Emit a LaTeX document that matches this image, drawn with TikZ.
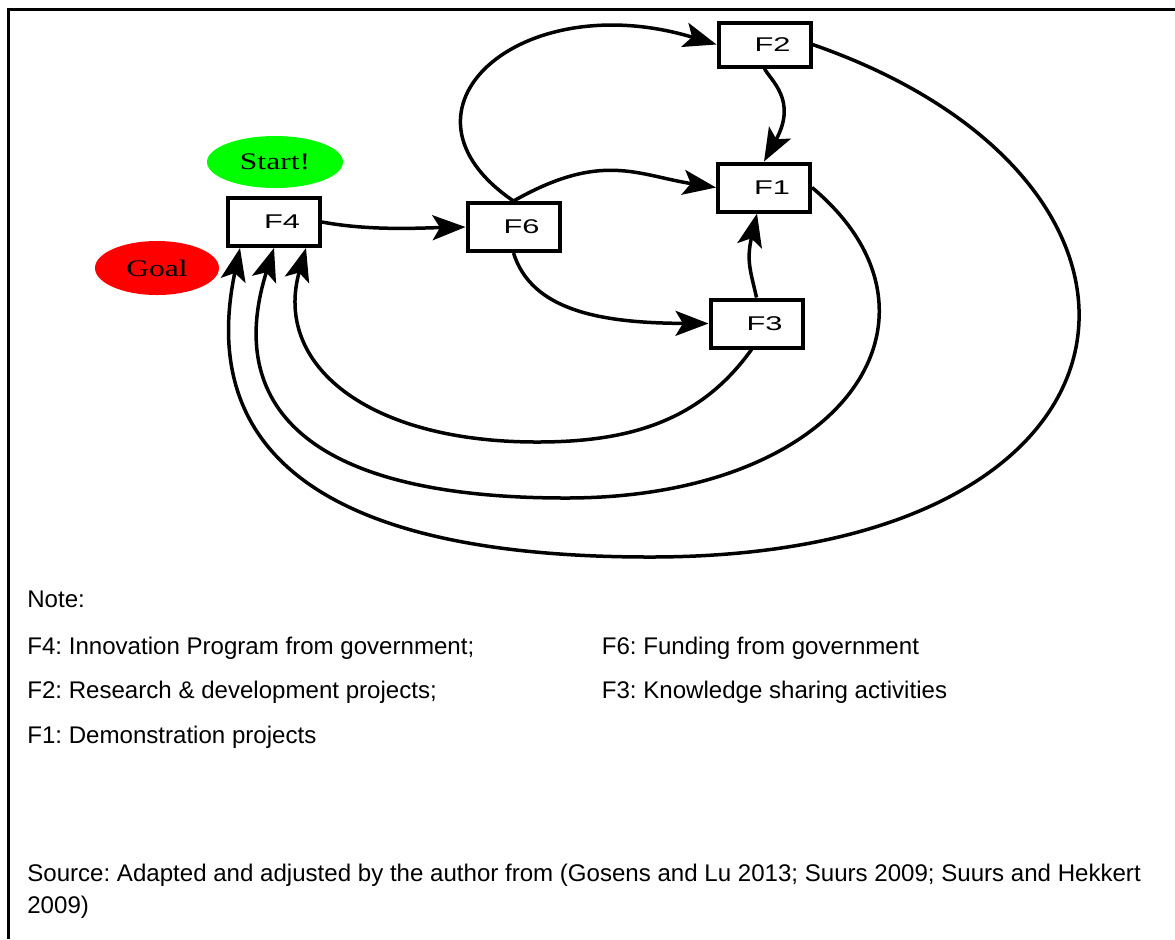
\documentclass[tikz,border=0pt]{standalone}
\usepackage{fontspec}
\setmainfont{Liberation Sans}
\newfontfamily\ovalfont{Liberation Serif}
\usetikzlibrary{arrows.meta, shapes.geometric, positioning}
\frenchspacing
\tikzstyle{arrow} = [line width=0.07cm,-{Stealth[length=0.66cm,width=0.5cm,inset=0.15cm]}]
\tikzstyle{oval} = [ellipse, inner sep=0pt, font=\ovalfont\fontsize{13.5}{16}\selectfont]
\tikzstyle{note} = [anchor=base west, inner sep=0pt, align=left, font=\fontsize{13.7}{18.2}\selectfont]
\tikzset{factor/.style={
    draw, line width=0.08cm, minimum width=1.84cm, minimum height=0.96cm, inner sep=0pt,
    label={[xshift=0.16cm, font=\fontsize{11.3}{13}\selectfont]center:\scalebox{1.55}[1]{#1}},
  },
}

\begin{document}
\begin{tikzpicture}
        \useasboundingbox (0,0) rectangle (23.5,-18.78);
        \draw[line width=0.06cm] (0.17,-18.78) -- (0.17,-0.18) -- (23.5,-0.18);

        \node[oval, fill=green, minimum width=2.72cm, minimum height=1.04cm] (start) at (5.50,-3.24) {\scalebox{1.33}[1]{Start!}};
        \node[oval, fill=red, minimum width=2.48cm, minimum height=1.08cm] (goal) at (3.14,-5.36) {\scalebox{1.33}[1]{Goal}};

        \node[factor=F4] (f4) at (5.48,-4.44) {};
        \node[factor=F6] (f6) at (10.27,-4.54) {};
        \node[factor=F2, minimum height=0.88cm] (f2) at (15.29,-0.89) {};
        \node[factor=F1] (f1) at (15.28,-3.75) {};
        \node[factor=F3] (f3) at (15.13,-6.47) {};

        % links between the factors
        \draw[arrow] (f4.east) .. controls (7.4,-4.62) and (8.4,-4.56) .. (f6.west);
        \draw[arrow] (f6.north) .. controls (7.6,-2.2) and (10.4,0.3) .. (f2.west);
        \draw[arrow] (f6.north) .. controls (12.03,-3.02) and (12.74,-3.50) .. (f1.west);
        \draw[arrow] (f6.south) .. controls (10.63,-6.20) and (11.98,-6.46) .. (f3.west);
        \draw[arrow] (f2.south) .. controls (15.40,-1.60) and (15.96,-2.00) .. (f1.north);
        \draw[arrow] (f3.north) .. controls (15.02,-5.45) and (14.92,-5.23) .. ([xshift=-0.14cm]f1.south);

        % feedback loops back to F4
        \draw[arrow] ([xshift=-0.1cm]f3.south) .. controls (14.0,-8.43) and (12.58,-8.84) .. (10.74,-8.84)
            .. controls (7.34,-8.84) and (5.46,-7.29) .. ([xshift=0.64cm]f4.south);
        \draw[arrow] (f1.east) .. controls (19.3,-6.31) and (16.92,-9.96) .. (11.32,-9.96)
            .. controls (5.72,-9.96) and (4.57,-7.83) .. (f4.south);
        \draw[arrow] (f2.east) .. controls (24.18,-3.64) and (23.4,-11.14) .. (13.0,-11.14)
            .. controls (5.7,-11.14) and (4.05,-8.52) .. ([xshift=-0.68cm]f4.south);

        \node[note] (notehead) at (0.54,-12.14) {Note:};
        \node[note] (notef4) at (0.54,-13.08) {F4: Innovation Program from government;};
        \node[note] (notef6) at (12.03,-13.08) {F6: Funding from government};
        \node[note] (notef2) at (0.54,-13.96) {F2: Research \& development projects;};
        \node[note] (notef3) at (12.03,-13.96) {F3: Knowledge sharing activities};
        \node[note] (notef1) at (0.54,-14.86) {F1: Demonstration projects};
        \node[note] (source) at (0.54,-18.26) {Source: Adapted and adjusted by the author from (Gosens and Lu 2013; Suurs 2009; Suurs and Hekkert\\2009)};
    \end{tikzpicture}
\end{document}
